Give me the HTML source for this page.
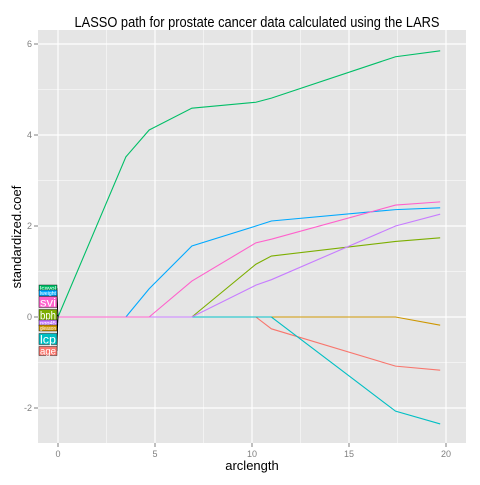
<!DOCTYPE html>
<html><head><meta charset="utf-8"><style>
body{margin:0;background:#fff;font-family:"Liberation Sans",sans-serif}
</style></head><body>
<svg id="chart" width="480" height="480" xmlns="http://www.w3.org/2000/svg">
<rect width="480" height="480" fill="#fff"/>
<rect x="38" y="30" width="428" height="413" fill="#e5e5e5"/>
<g id="grid"></g>
<g id="series"></g>
<g id="labels"></g>
<g id="axes"></g>
<text x="257" y="27" text-anchor="middle" font-size="15" textLength="365" lengthAdjust="spacingAndGlyphs" fill="#000">LASSO path for prostate cancer data calculated using the LARS</text>
<text x="252" y="470" text-anchor="middle" font-size="13" fill="#000">arclength</text>
<text transform="translate(21,237) rotate(-90)" text-anchor="middle" font-size="13" fill="#000">standardized.coef</text>
</svg>
<script>
const steps=[0,3.5,4.7,6.9,10.2,11.0,17.4,19.7];
const seriesNames=["age","gleason","lbph","lcavol","lcp","lweight","pgg45","svi"];
const age=[0,0,0,0,0,-0.26,-1.08,-1.17];
const gleason=[0,0,0,0,0,0,0,-0.18];
const lbph=[0,0,0,0,1.16,1.34,1.66,1.74];
const lcavol=[0,3.52,4.11,4.59,4.72,4.81,5.72,5.85];
const lcp=[0,0,0,0,0,0,-2.07,-2.35];
const lweight=[0,0,0.62,1.56,2.0,2.11,2.36,2.40];
const pgg45=[0,0,0,0,0.70,0.82,2.0,2.26];
const svi=[0,0,0,0.79,1.63,1.71,2.46,2.53];
const xTicks=[0,5,10,15,20];
const yTicks=[-2,0,2,4,6];
const colors=["#F8766D","#CD9600","#7CAE00","#00BE67","#00BFC4","#00A9FF","#C77CFF","#FF61CC"];
const values=[age,gleason,lbph,lcavol,lcp,lweight,pgg45,svi];
const X=v=>58+v*19.4, Y=v=>317-v*45.5;
const NS="http://www.w3.org/2000/svg";
function mk(tag,attrs,parent){const e=document.createElementNS(NS,tag);for(const k in attrs)e.setAttribute(k,attrs[k]);parent.appendChild(e);return e;}
const grid=document.getElementById('grid');
for(let v=-2.5;v<=21;v+=2.5){const l=mk('line',{x1:X(v),x2:X(v),y1:30,y2:443,stroke:'#fff','stroke-width':(v%5===0)?1.2:0.5},grid);

}
for(let v=-2;v<=6;v+=1){const l=mk('line',{x1:38,x2:466,y1:Y(v),y2:Y(v),stroke:'#fff','stroke-width':(v%2===0)?1.2:0.5},grid);

}
const axes=document.getElementById('axes');
xTicks.forEach(t=>{mk('line',{x1:X(t),x2:X(t),y1:443,y2:447,stroke:'#7f7f7f'},axes);
const tx=mk('text',{x:X(t),y:457,'text-anchor':'middle','font-size':9,fill:'#7f7f7f'},axes);tx.textContent=t;

});
yTicks.forEach(t=>{mk('line',{x1:34,x2:38,y1:Y(t),y2:Y(t),stroke:'#7f7f7f'},axes);
const tx=mk('text',{x:32,y:Y(t)+3,'text-anchor':'end','font-size':9,fill:'#7f7f7f'},axes);tx.textContent=t;

});
const sg=document.getElementById('series');
values.forEach((vals,i)=>{const p=mk('polyline',{points:vals.map((v,j)=>X(steps[j])+','+Y(v)).join(' '),fill:'none',stroke:colors[i],'stroke-width':1.1},sg);

});
const lab=document.getElementById('labels');
const labInfo=[[3,'lcavol',288,6,5],[5,'lweight',293,6,5],[7,'svi',302,11,12],[2,'bph',315,11,12],[6,'pgg45',323,6,5],[1,'gleason',328,6,5],[4,'lcp',339,11,12],[0,'age',351,9,10]];
labInfo.forEach(([ci,txt,y,h,fs])=>{
mk('line',{x1:57,y1:y,x2:X(0),y2:Y(0),stroke:'#000','stroke-width':0.6},lab);
const r=mk('rect',{x:39,y:y-h/2,width:18,height:h,fill:colors[ci],stroke:'#000','stroke-width':0.4},lab);


const t=mk('text',{x:48,y:y+fs*0.36,'text-anchor':'middle','font-size':fs,fill:'#fff',textLength:16,lengthAdjust:'spacingAndGlyphs'},lab);t.textContent=txt;

});
</script>
</body></html>
